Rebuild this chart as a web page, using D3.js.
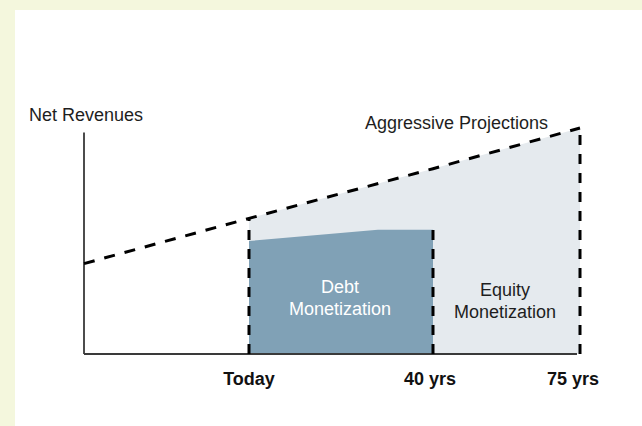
<!DOCTYPE html>
<html>
<head>
<meta charset="utf-8">
<script src="https://cdn.jsdelivr.net/npm/d3@7"></script>
<style>
  html, body { margin: 0; padding: 0; background: #f4f7dd; }
  svg { display: block; }
  text { font-family: "Liberation Sans", Arial, Helvetica, sans-serif; }
</style>
</head>
<body>
<svg id="chart" width="642" height="426"></svg>
<script>
// Timeline in years from today; the y-axis sits before "today".
const projectionYears   = [-30, 0, 40, 75];
const projectionRevenue = [40, 60, 82, 100];   // aggressive projection (index units)

const debtYears   = [0, 28, 40];
const debtRevenue = [50, 55, 55];              // debt-monetized revenue

const tickYears  = [0, 40, 75];
const tickLabels = ["Today", "40 yrs", "75 yrs"];
const tickTops   = [60, 55, 100];              // height each dashed marker reaches

const yAxisMax = 98;

const svg = d3.select("#chart");

// white panel inside the tinted frame
svg.append("rect")
  .attr("x", 15).attr("y", 10)
  .attr("width", 627).attr("height", 416)
  .attr("fill", "#ffffff");

const x = d3.scaleLinear()
  .domain([-30, 0, 40, 75])
  .range([84, 249, 433, 580]);

const y = d3.scaleLinear()
  .domain([0, 100])
  .range([354, 128]);

const projection = projectionYears.map((yr, i) => ({ yr, v: projectionRevenue[i] }));
const debt = debtYears.map((yr, i) => ({ yr, v: debtRevenue[i] }));

const area = d3.area()
  .x(d => x(d.yr))
  .y0(y(0))
  .y1(d => y(d.v));

// equity region: under the projection from today onward
svg.append("path")
  .datum(projection.filter(d => d.yr >= 0))
  .attr("d", area)
  .attr("fill", "#e5eaee");

// debt region
svg.append("path")
  .datum(debt)
  .attr("d", area)
  .attr("fill", "#80a1b6");

// axes
svg.append("line")
  .attr("x1", x(-30)).attr("x2", x(-30))
  .attr("y1", y(0)).attr("y2", y(yAxisMax))
  .attr("stroke", "#111").attr("stroke-width", 1.5);

svg.append("line")
  .attr("x1", x(-30)).attr("x2", x(75) - 3)
  .attr("y1", y(0)).attr("y2", y(0))
  .attr("stroke", "#3a3a3a").attr("stroke-width", 2);

// projection line
svg.append("path")
  .datum(projection)
  .attr("d", d3.line().x(d => x(d.yr)).y(d => y(d.v)))
  .attr("fill", "none")
  .attr("stroke", "#000")
  .attr("stroke-width", 3)
  .attr("stroke-dasharray", "11,10");

// dashed year markers
svg.selectAll(".marker")
  .data(tickYears)
  .join("line")
  .attr("class", "marker")
  .attr("x1", d => x(d)).attr("x2", d => x(d))
  .attr("y1", y(0))
  .attr("y2", (d, i) => y(tickTops[i]))
  .attr("stroke", "#000")
  .attr("stroke-width", 3)
  .attr("stroke-dasharray", "10,9");

// tick labels
const labelShift = [0, -3, -7];
svg.selectAll(".tick-label")
  .data(tickLabels)
  .join("text")
  .attr("class", "tick-label")
  .attr("x", (d, i) => x(tickYears[i]) + labelShift[i])
  .attr("y", 385)
  .attr("text-anchor", "middle")
  .attr("font-size", 18)
  .attr("font-weight", "bold")
  .attr("fill", "#111")
  .text(d => d);

// annotations
svg.append("text")
  .attr("x", 29).attr("y", 121)
  .attr("font-size", 18).attr("fill", "#1e1e1e")
  .text("Net Revenues");

svg.append("text")
  .attr("x", 548).attr("y", 129)
  .attr("text-anchor", "end")
  .attr("font-size", 18).attr("fill", "#1e1e1e")
  .text("Aggressive Projections");

const block = (cx, lines, baseY, color) => {
  svg.append("text")
    .attr("text-anchor", "middle")
    .attr("font-size", 18)
    .attr("fill", color)
    .selectAll("tspan")
    .data(lines)
    .join("tspan")
    .attr("x", cx)
    .attr("y", (d, i) => baseY + i * 22.5)
    .text(d => d);
};

block(340, ["Debt", "Monetization"], 292.5, "#ffffff");
block(505, ["Equity", "Monetization"], 295.5, "#1e1e1e");
</script>
</body>
</html>
